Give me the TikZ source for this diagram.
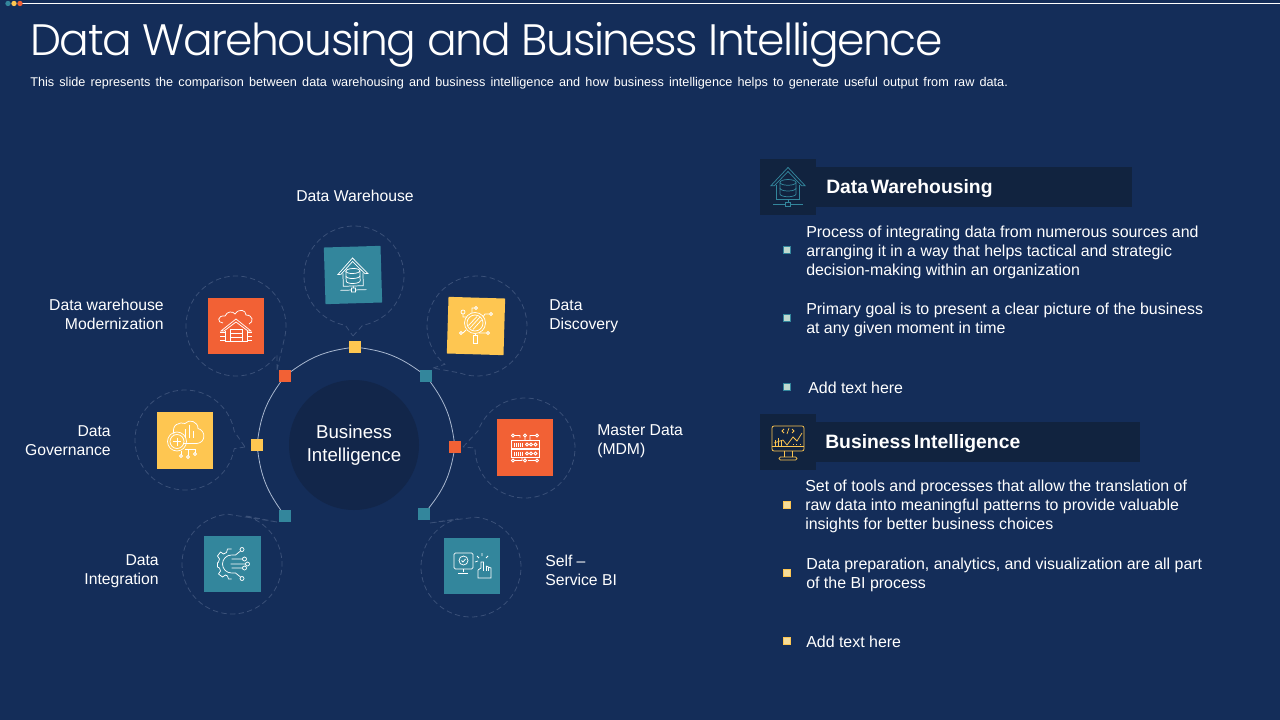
\documentclass[tikz,border=0pt]{standalone}
\usepackage{fontspec}
\setmainfont{Liberation Sans}
\newfontfamily\titlefont[LetterSpace=-3.4]{Poppins Light}
\newcommand\subtextfont{\fontsize{9.5}{11}\selectfont\spaceskip 3.9pt\relax}
\newcommand\headtextfont{\fontsize{14.5}{18}\selectfont\bfseries\spaceskip 2pt\relax}
\definecolor{slatebg}{HTML}{142D59}
\definecolor{slatedark}{HTML}{12264A}
\definecolor{bandcol}{HTML}{11233F}
\definecolor{tealcol}{HTML}{33869C}
\definecolor{redcol}{HTML}{F26135}
\definecolor{goldcol}{HTML}{FEC651}
\definecolor{ringcol}{HTML}{A9B8D0}
\definecolor{dashcol}{HTML}{3A5078}
\definecolor{tealfill}{HTML}{BFD9CF}
\definecolor{goldfill}{HTML}{F5DC9A}
\tikzset{
	iconbox/.style={minimum size=42.5pt, inner sep=0pt, outer sep=0pt},
	marker/.style={minimum size=9pt, inner sep=0pt, outer sep=0pt},
	balloon/.style={circle, minimum size=75pt, inner sep=0pt, outer sep=0pt},
	dashline/.style={dashcol, line width=0.6pt, dashed, dash pattern=on 4pt off 2.5pt},
	ringline/.style={ringcol, line width=0.6pt},
	caption/.style={text=white, font=\fontsize{11.8}{14.25}\selectfont, inner sep=0pt},
	bodytext/.style={text=white, font=\fontsize{11.95}{14.25}\selectfont, inner sep=0pt, anchor=west, align=left},
	headtext/.style={text=white, font=\headtextfont, inner sep=0pt, anchor=west},
	bandbox/.style={fill=bandcol, inner sep=0pt, outer sep=0pt},
	tealbullet/.style={minimum size=5.5pt, inner sep=0pt, fill=tealfill, draw=tealcol, line width=0.4pt},
	goldbullet/.style={minimum size=5.5pt, inner sep=0pt, fill=goldfill, draw=goldcol, line width=0.4pt},
	topdot/.style={circle, minimum size=4pt, inner sep=0pt},
	% Icons, in pixels around the middle of their box
	pics/dbhouse/.style={code={
		\draw (-15,-1) -- (0,-17) -- (15,-1) -- (12,-1) -- (0,-13.5) -- (-12,-1) -- cycle;
		\draw (-10,-2) -- (-10,11) -- (10,11) -- (10,-2);
		\draw (0,-4) ellipse (7 and 2.5);
		\draw (-7,-4) -- (-7,6) arc[start angle=180, end angle=360, x radius=7, y radius=-2.5] -- (7,-4);
		\draw (-7,1) arc[start angle=180, end angle=360, x radius=7, y radius=-2.5];
		\draw (-13,15) -- (-2,15) (2,15) -- (13,15) (0,11) -- (0,13);
		\draw (-2,13) rectangle (2,17);
	}},
	pics/garagecloud/.style={code={
		\draw (-13,-3) .. controls (-19,-3) and (-19,-11) .. (-11,-10) .. controls (-9,-15) and (-3,-15) .. (-1,-12) .. controls (3,-18) and (10,-16) .. (10,-11) .. controls (17,-11) and (18,-4) .. (13,-2);
		\draw (-15,5) -- (0,-7) -- (15,5) -- (12,5) -- (0,-4) -- (-12,5) -- cycle;
		\draw (-11,5) -- (-11,15) -- (11,15) -- (11,5);
		\draw (-6,3) rectangle (6,15) (-6,7) -- (6,7) (-6,11) -- (6,11);
		\draw (-16,6) -- (-11,6) (-16,10) -- (-11,10) (-16,14) -- (-11,14) (11,6) -- (16,6) (11,10) -- (16,10) (11,14) -- (16,14);
	}},
	pics/lensnet/.style={code={
		\draw (-1,-3) circle (10.5) (-1,-3) circle (8);
		\draw (-6,2) -- (4,-9) (-3,3.5) -- (5.5,-6) (-7.5,-0.5) -- (1,-9.5);
		\draw (-3,9) rectangle (1,17) (-1,7.5) -- (-1,9);
		\draw (-9,-9) -- (-13,-9) -- (-13,-12) (-13,-14) circle (2);
		\draw (-4,-13) -- (-4,-18) -- (-2,-18) (0,-18) circle (1.5);
		\draw (7,-9) -- (9,-12) -- (13,-12) (15,-12) circle (1.5);
		\draw (-10,4) -- (-13,7) (-15,7) circle (1.5);
		\draw (3,7) -- (10,7) (12,7) circle (1.5);
	}},
	pics/braincloud/.style={code={
		\draw (-11,-6) .. controls (-14,-16) and (-5,-19) .. (0,-17) .. controls (4,-22) and (13,-19) .. (13,-12) .. controls (21,-10) and (21,2) .. (12,3) -- (-2,3);
		\draw (-8,1) circle (9.5) (-8,1) circle (7);
		\draw (-8,-3) -- (-8,5) (-12,1) -- (-4,1);
		\draw (0,-3) -- (0,-12) (4,-3) -- (4,-16) (8,-3) -- (8,-10);
		\draw (-4,10) -- (-4,14) (0,9) -- (10,9) -- (10,12) (3,9) -- (3,15);
		\draw (-4,15.5) circle (1.5) (3,16.5) circle (1.5) (10,13.5) circle (1.5);
	}},
	pics/serverrack/.style={code={
		\draw (-14,-7) rectangle (14,1) (-14,2) rectangle (14,10);
		\draw (-11,-5) -- (-11,-1) (-9,-5) -- (-9,-1) (-7,-5) -- (-7,-1) (-5,-5) -- (-5,-1) (-3,-5) -- (-3,-1);
		\draw (-11,4) -- (-11,8) (-9,4) -- (-9,8) (-7,4) -- (-7,8) (-5,4) -- (-5,8) (-3,4) -- (-3,8);
		\draw (2,-3) circle (1.5) (6,-3) circle (1.5) (10.5,-3) circle (1.5);
		\draw (2,6) circle (1.5) (6,6) circle (1.5) (10.5,6) circle (1.5);
		\draw (-12,-12) circle (1.5) (-10.5,-12) -- (-5,-12) -- (-5,-10);
		\draw (0,-12) circle (1.5) (0,-10.5) -- (0,-7);
		\draw (12,-12) circle (1.5) (10.5,-12) -- (5,-12) -- (5,-7);
		\draw (-12,13) circle (1.5) (-10.5,13) -- (-3,13) -- (-3,10);
		\draw (0,13) circle (1.5) (0,11.5) -- (0,10);
		\draw (12,13) circle (1.5) (10.5,13) -- (3,13);
	}},
	pics/geartrace/.style={code={
		\draw[line join=round] (-1,-15) -- (-5,-15) -- (-6,-11.5) -- (-9,-10) -- (-12,-12) -- (-15,-8) -- (-13,-5) -- (-14,-2) -- (-15,-1) -- (-15,3) -- (-13,4) -- (-12,7) -- (-14,10) -- (-10,13) -- (-7,11) -- (-5,12) -- (-4,15) -- (-1,15);
		\draw (-1,-9) arc[start angle=90, end angle=270, x radius=9, y radius=-9];
		\draw (-1,-9) -- (3,-9) -- (8,-13) (-1,-5) -- (10,-5) (-2,0) -- (13,0) (-1,4) -- (10,4) (-1,9) -- (3,9) -- (8,13);
		\draw (9.5,-14.5) circle (2) (12,-5) circle (2) (15,0) circle (2) (12,4) circle (2) (9.5,14.5) circle (2);
	}},
	pics/selfservice/.style={code={
		\draw[rounded corners=1pt] (-18,-13) rectangle (1,3);
		\draw (-9,3) -- (-9,6) (-14,7) -- (-4,7);
		\draw (-8.5,-5.5) circle (4.5);
		\draw (-10.5,-5.5) -- (-9,-4) -- (-6.5,-7);
		\draw (6,4) -- (6,12) -- (19,12) -- (19,2) -- (14,0) (6,4) -- (9,2) -- (9,-4) -- (11.5,-4) -- (11.5,1);
		\draw (14,0) -- (14,5) (16.5,1) -- (16.5,5) (11.5,1) -- (11.5,5);
		\draw (3,-4) -- (6,-5) (5,-10) -- (7,-8) (10,-13) -- (10,-10) (16,-10) -- (14,-8);
	}},
	pics/chartscreen/.style={code={
		\draw[rounded corners=1.5pt] (-16,-16) rectangle (16,9);
		\draw (-16,4) -- (16,4);
		\draw (-4,8.5) -- (-4,15) (4,8.5) -- (4,15);
		\draw[rounded corners=1pt] (-9,15) rectangle (9,18);
		\draw (-13,4) -- (-13,-2) (-10,4) -- (-10,-4) (-7,4) -- (-7,-2);
		\draw (-14,1) -- (-5,-2) -- (-1,3) -- (5,-5) -- (9,-1) -- (14,-9);
		\draw (-4,-13) -- (-6,-11) -- (-4,-9) (4,-13) -- (6,-11) -- (4,-9) (1,-14) -- (-1,-8);
		\draw[dotted] (5,2) -- (14,2);
	}},
	iconline/.style={white, line width=0.55pt},
}
\begin{document}
\begin{tikzpicture}[x=0.75pt, y=-0.75pt]
	\useasboundingbox[fill=slatebg] (0,0) rectangle (1280,720);

	% Top rule
	\coordinate (ruleL) at (20,3.5);
	\coordinate (ruleR) at (1280,3.5);
	\draw[white, line width=0.7pt] (ruleL) -- (ruleR);
	\node[topdot, fill=tealcol] (dotA) at (8,3.5) {};
	\node[topdot, fill=goldcol] (dotB) at (14,3.5) {};
	\node[topdot, fill=redcol] (dotC) at (20,3.5) {};

	% Title
	\node[text=white, font=\titlefont\fontsize{33}{40}\selectfont, inner sep=0pt, anchor=base west] (titleText) at (30,56) {Data Warehousing and Business Intelligence};
	\node[text=white, font=\subtextfont, inner sep=0pt, anchor=base west] (subText) at (30,87) {This slide represents the comparison between data warehousing and business intelligence and how business intelligence helps to generate useful output from raw data.};

	% Hub
	\node[circle, fill=slatedark, minimum size=97.5pt, inner sep=0pt, text=white, align=center, font=\fontsize{14}{17.25}\selectfont] (hub) at (354,445) {Business\\Intelligence};

	% Markers on the ring
	\node[marker, fill=goldcol] (mTop) at (355,347) {};
	\node[marker, fill=redcol] (mModern) at (285,376) {};
	\node[marker, fill=tealcol] (mDiscovery) at (426,376) {};
	\node[marker, fill=goldcol] (mGovern) at (257,445) {};
	\node[marker, fill=redcol] (mMaster) at (455,447) {};
	\node[marker, fill=tealcol] (mIntegr) at (285,516) {};
	\node[marker, fill=tealcol] (mSelf) at (424,514) {};

	% Ring
	\draw[ringline] (mGovern) to[bend left=14] (mModern);
	\draw[ringline] (mModern) to[bend left=14] (mTop);
	\draw[ringline] (mTop) to[bend left=14] (mDiscovery);
	\draw[ringline] (mDiscovery) to[bend left=14] (mMaster);
	\draw[ringline] (mMaster) to[bend left=14] (mSelf);
	\draw[ringline] (mIntegr) to[bend left=14] (mGovern);

	% Balloons
	\node[balloon] (bTop) at (354,276) {};
	\node[balloon] (bDiscovery) at (477,326) {};
	\node[balloon] (bModern) at (236,326) {};
	\node[balloon] (bGovern) at (185,440) {};
	\node[balloon] (bMaster) at (525,448) {};
	\node[balloon] (bIntegr) at (232,564) {};
	\node[balloon] (bSelf) at (471,567) {};

	\coordinate (tipTop) at (353,336);
	\coordinate (tipDiscovery) at (433,368);
	\coordinate (tipModern) at (277,370);
	\coordinate (tipGovern) at (245,447);
	\coordinate (tipMaster) at (463,447);
	\coordinate (tipIntegr) at (277,522);
	\coordinate (tipSelf) at (430,523);

	\draw[dashline] (tipTop) -- (bTop.-80) arc[start angle=-80, delta angle=340, radius=37.5pt] -- cycle;
	\draw[dashline] (tipDiscovery) -- (bDiscovery.-130) arc[start angle=-130, delta angle=-340, radius=37.5pt] -- cycle;
	\draw[dashline] (tipModern) -- (bModern.-15) arc[start angle=-15, delta angle=340, radius=37.5pt] -- cycle;
	\draw[dashline] (tipGovern) -- (bGovern.-10) arc[start angle=-10, delta angle=-340, radius=37.5pt] -- cycle;
	\draw[dashline] (tipMaster) -- (bMaster.160) arc[start angle=160, delta angle=-340, radius=37.5pt] -- cycle;
	\draw[dashline] (tipIntegr) -- (bIntegr.75) arc[start angle=75, delta angle=-340, radius=37.5pt] -- cycle;
	\draw[dashline] (tipSelf) -- (bSelf.105) arc[start angle=105, delta angle=340, radius=37.5pt] -- cycle;

	% Icon boxes
	\node[iconbox, fill=tealcol, rotate=1.7] (iTop) at (353,275) {};
	\node[iconbox, fill=goldcol, rotate=-1.7] (iDiscovery) at (476,326) {};
	\node[iconbox, fill=redcol] (iModern) at (236,326) {};
	\node[iconbox, fill=goldcol] (iGovern) at (185,440.5) {};
	\node[iconbox, fill=redcol] (iMaster) at (525,447.5) {};
	\node[iconbox, fill=tealcol] (iIntegr) at (232.5,564) {};
	\node[iconbox, fill=tealcol] (iSelf) at (472,566) {};

	% Icons
	\pic[iconline, rotate=1.7] at (iTop) {dbhouse};
	\pic[iconline] at (iDiscovery) {lensnet};
	\pic[iconline] at (iModern) {garagecloud};
	\pic[iconline] at (iGovern) {braincloud};
	\pic[iconline] at (iMaster) {serverrack};
	\pic[iconline] at (iIntegr) {geartrace};
	\pic[iconline] at (iSelf) {selfservice};

	% Labels
	\node[caption] (lTop) at (355,196) {Data Warehouse};
	\node[caption, anchor=east, align=right] (lModern) at (164,314) {Data warehouse\\Modernization};
	\node[caption, anchor=west, align=left] (lDiscovery) at (549,316) {Data\\Discovery};
	\node[caption, anchor=east, align=right] (lGovern) at (111,441) {Data\\Governance};
	\node[caption, anchor=west, align=left] (lMaster) at (597,441) {Master Data\\(MDM)};
	\node[caption, anchor=east, align=right] (lIntegr) at (159,571) {Data\\Integration};
	\node[caption, anchor=west, align=left] (lSelf) at (545,570) {Self --\\Service BI};

	% Data Warehousing panel
	\node[bandbox, minimum width=237pt, minimum height=30pt, anchor=west] (bandDW) at (816,187) {};
	\node[bandbox, minimum size=42pt] (boxDW) at (788,187) {};
	\pic[tealcol, line width=0.55pt, scale=1.15] at (boxDW) {dbhouse};
	\node[headtext] (headDW) at (826,189) {Data Warehousing};
	\node[tealbullet] (dotDWa) at (787,250) {};
	\node[tealbullet] (dotDWb) at (787,318) {};
	\node[tealbullet] (dotDWc) at (787,387) {};
	\node[bodytext] (textDWa) at (806,252) {Process of integrating data from numerous sources and\\arranging it in a way that helps tactical and strategic\\decision-making within an organization};
	\node[bodytext] (textDWb) at (806,320) {Primary goal is to present a clear picture of the business\\at any given moment in time};
	\node[bodytext] (textDWc) at (808,388) {Add text here};

	% Business Intelligence panel
	\node[bandbox, minimum width=243pt, minimum height=30pt, anchor=west] (bandBI) at (816,442) {};
	\node[bandbox, minimum size=42pt] (boxBI) at (788,442) {};
	\pic[goldcol, line width=0.55pt] at (boxBI) {chartscreen};
	\node[headtext] (headBI) at (825,444) {Business Intelligence};
	\node[goldbullet] (dotBIa) at (787,505) {};
	\node[goldbullet] (dotBIb) at (787,573) {};
	\node[goldbullet] (dotBIc) at (787,641) {};
	\node[bodytext] (textBIa) at (805,506) {Set of tools and processes that allow the translation of\\raw data into meaningful patterns to provide valuable\\insights for better business choices};
	\node[bodytext] (textBIb) at (806,575) {Data preparation, analytics, and visualization are all part\\of the BI process};
	\node[bodytext] (textBIc) at (806,642) {Add text here};
\end{tikzpicture}
\end{document}
